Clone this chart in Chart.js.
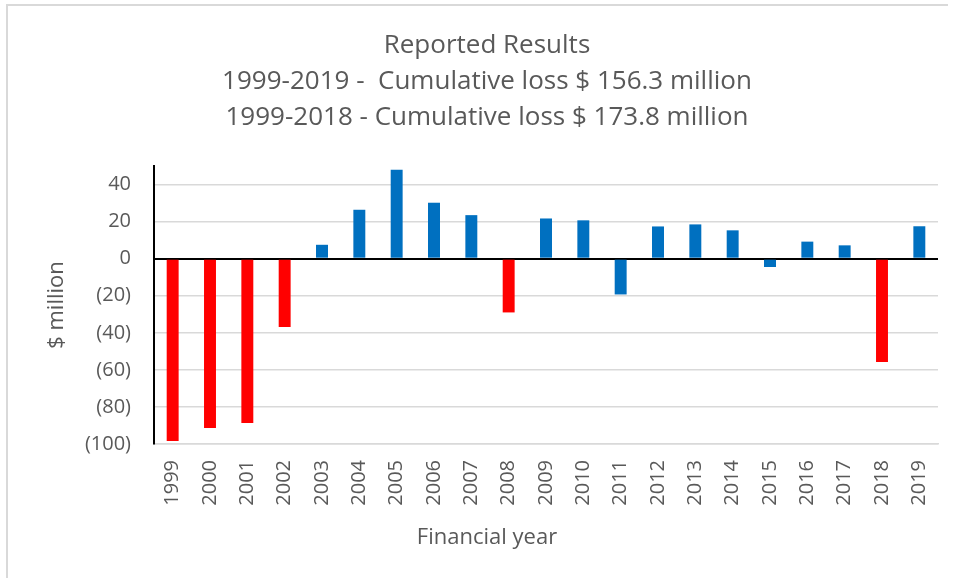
<!DOCTYPE html>
<html>
<head>
<meta charset="utf-8">
<script src="https://cdn.jsdelivr.net/npm/chart.js@4"></script>
<style>
	html, body { margin: 0; padding: 0; background: #fff; }
	#wrap { width: 954px; height: 578px; position: relative; }
	#frame {
		position: absolute; left: 6px; top: 4px; width: 940px; height: 580px;
		border-left: 2px solid #d9d9d9; border-top: 2px solid #d9d9d9;
		pointer-events: none;
	}
</style>
</head>
<body>
<div id="wrap"><canvas id="resultsChart"></canvas><div id="frame"></div></div>
<script>
// data ($ million)
const years = ['1999', '2000', '2001', '2002', '2003', '2004', '2005', '2006', '2007', '2008',
	'2009', '2010', '2011', '2012', '2013', '2014', '2015', '2016', '2017', '2018', '2019'];
const results = [-98.4, -91.4, -88.7, -36.9, 7.5, 26.4, 48.0, 30.2, 23.5, -29.0,
	21.7, 20.7, -19.3, 17.4, 18.5, 15.3, -4.5, 9.2, 7.2, -55.8, 17.5];
const redYears = ['1999', '2000', '2001', '2002', '2008', '2018'];
const yTicks = [-100, -80, -60, -40, -20, 0, 20, 40];
const titleLines = ['Reported Results',
	'1999-2019 -  Cumulative loss $ 156.3 million',
	'1999-2018 - Cumulative loss $ 173.8 million'];

const textColor = '#595959';
const fontFamily = '"Open Sans", "Noto Sans", sans-serif';

const ctx = document.getElementById('resultsChart').getContext('2d');
new Chart(ctx, {
	type: 'bar',
	data: {
		labels: years,
		datasets: [{
			label: '$ million',
			data: results,
			backgroundColor: years.map(y => redYears.includes(y) ? '#FF0000' : '#0070C0'),
			borderWidth: 0,
			barPercentage: 0.32,
			categoryPercentage: 1
		}]
	},
	options: {
		responsive: true,
		maintainAspectRatio: false,
		animation: false,
		layout: { padding: { left: 36, right: 16, top: 0, bottom: 0 } },
		plugins: {
			legend: { display: false },
			tooltip: { enabled: false },
			title: {
				display: true,
				text: titleLines,
				color: textColor,
				font: { family: fontFamily, size: 26, weight: 'normal', lineHeight: 1.385 },
				padding: { top: 28, bottom: 30 }
			},
			subtitle: {
				display: true,
				position: 'bottom',
				text: 'Financial year',
				color: textColor,
				font: { family: fontFamily, size: 22, weight: 'normal', lineHeight: 1.2 },
				padding: { top: 3.6, bottom: 27 }
			}
		},
		scales: {
			x: {
				grid: { display: false, drawTicks: false },
				border: { color: '#d9d9d9', width: 1.5 },
				ticks: {
					color: textColor,
					font: { family: fontFamily, size: 20 },
					minRotation: 90,
					maxRotation: 90,
					autoSkip: false,
					padding: 16
				},
				afterFit: s => {
					s.height = 77;
					s.paddingLeft = 0;
					s.paddingRight = 0;
				}
			},
			y: {
				min: -100,
				max: 50,
				afterBuildTicks: s => { s.ticks = yTicks.map(v => ({ value: v })); },
				grid: {
					drawTicks: false,
					color: c => c.tick && c.tick.value === 0 ? '#000000' : '#d9d9d9',
					lineWidth: c => c.tick && c.tick.value === 0 ? 2 : 1.5
				},
				border: { color: '#000000', width: 2 },
				ticks: {
					color: textColor,
					font: { family: fontFamily, size: 20 },
					padding: 23,
					callback: v => v < 0 ? '(' + (-v) + ')' : String(v)
				},
				title: {
					display: true,
					text: '$ million',
					color: textColor,
					font: { family: fontFamily, size: 22, weight: 'normal', lineHeight: 1.2 },
					padding: { top: 8, bottom: 0 }
				},
				afterFit: s => { s.width = 118; }
			}
		}
	}
});
</script>
</body>
</html>
